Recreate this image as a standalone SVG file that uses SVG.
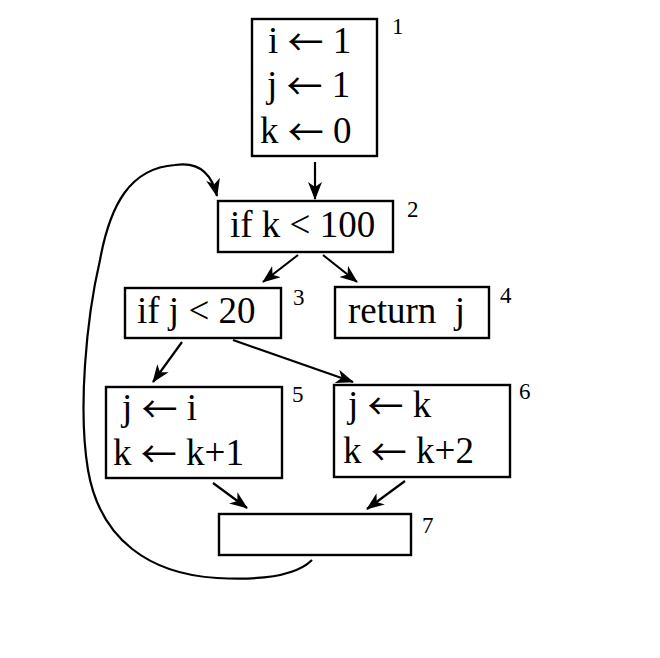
<svg xmlns="http://www.w3.org/2000/svg" width="660" height="658" viewBox="0 0 660 658">
<style>
.box{fill:#fff;stroke:#000;stroke-width:2.4}
.t{font-family:"Liberation Serif","Times New Roman",serif;font-size:37px;fill:#000}
.a{font-family:"Noto Sans CJK JP","Noto Sans CJK SC",sans-serif;font-size:36px}
.n{font-family:"Liberation Serif","Times New Roman",serif;font-size:23px;fill:#000}
.e{fill:none;stroke:#000;stroke-width:2.2;marker-end:url(#ah)}
</style>
<defs>
<marker id="ah" markerWidth="20" markerHeight="16" refX="17" refY="7" orient="auto" markerUnits="userSpaceOnUse">
<path d="M0,0 L18,7 L0,14 L5,7 Z" fill="#000"/>
</marker>
</defs>
<rect width="660" height="658" fill="#fff"/>
<g id="connectors">
<line class="e" x1="315" y1="162" x2="315" y2="199"/>
<line class="e" x1="298" y1="255" x2="263" y2="282"/>
<line class="e" x1="323" y1="255" x2="357" y2="282"/>
<line class="e" x1="182" y1="342" x2="153" y2="382"/>
<line class="e" x1="233" y1="340" x2="353" y2="382"/>
<line class="e" x1="213" y1="483" x2="247" y2="508"/>
<line class="e" x1="405" y1="481" x2="367" y2="509"/>
<path class="e" d="M312,560 Q290,582 217,578 C150,574 100,540 88,470 C78,410 86,320 100,260 C110,205 130,168 175,165 C200,161 212,175 217,196"/>
</g>
<g id="node1">
<rect class="box" x="252" y="19" width="125" height="137"/>
<text class="t" x="268" y="53">i <tspan class="a" dy="3">←</tspan><tspan dy="-3"> 1</tspan></text>
<text class="t" x="267" y="97">j <tspan class="a" dy="3">←</tspan><tspan dy="-3"> 1</tspan></text>
<text class="t" x="260" y="143">k <tspan class="a" dy="3">←</tspan><tspan dy="-3"> 0</tspan></text>
<text class="n" x="392" y="34">1</text>
</g>
<g id="node2">
<rect class="box" x="218" y="201" width="175" height="51"/>
<text class="t" x="230" y="237">if k &lt; 100</text>
<text class="n" x="407" y="217">2</text>
</g>
<g id="node3">
<rect class="box" x="125" y="288" width="156" height="50"/>
<text class="t" x="137" y="323">if j &lt; 20</text>
<text class="n" x="293" y="305">3</text>
</g>
<g id="node4">
<rect class="box" x="335" y="287" width="154" height="51"/>
<text class="t" x="348" y="323" xml:space="preserve">return  j</text>
<text class="n" x="500" y="303">4</text>
</g>
<g id="node5">
<rect class="box" x="106" y="387" width="176" height="91"/>
<text class="t" x="122" y="420">j <tspan class="a" dy="3">←</tspan><tspan dy="-3"> i</tspan></text>
<text class="t" x="113" y="465">k <tspan class="a" dy="3">←</tspan><tspan dy="-3"> k+1</tspan></text>
<text class="n" x="292" y="402">5</text>
</g>
<g id="node6">
<rect class="box" x="334" y="385" width="176" height="92"/>
<text class="t" x="348" y="417">j <tspan class="a" dy="3">←</tspan><tspan dy="-3"> k</tspan></text>
<text class="t" x="343" y="463">k <tspan class="a" dy="3">←</tspan><tspan dy="-3"> k+2</tspan></text>
<text class="n" x="519" y="399">6</text>
</g>
<g id="node7">
<rect class="box" x="219" y="514" width="192" height="41"/>
<text class="n" x="422" y="533">7</text>
</g>
</svg>
